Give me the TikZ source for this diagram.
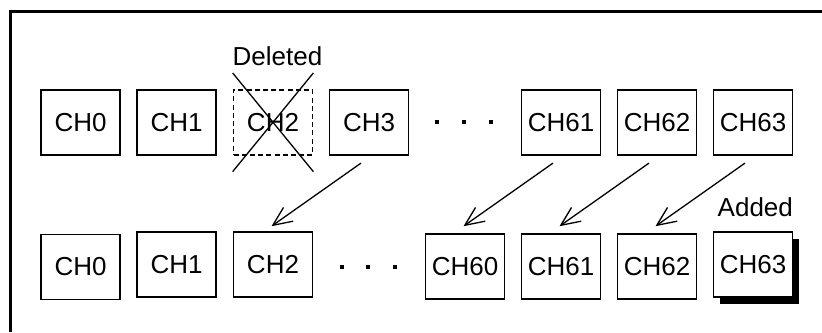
\documentclass[tikz,border=0pt]{standalone}
\usepackage{fontspec}
\setmainfont{Liberation Sans}
\usetikzlibrary{arrows.meta,shadows}
\begin{document}
\begin{tikzpicture}[x=0.5pt,y=-0.5pt,
  chbox/.style={draw,line width=0.8pt,minimum width=39.5pt,minimum height=32.5pt,inner sep=0pt,font=\fontsize{13pt}{15pt}\selectfont},
  delbox/.style={chbox,dash pattern=on 2.5pt off 1.6pt,line width=0.85pt},
  lbl/.style={font=\fontsize{13pt}{15pt}\selectfont,inner sep=0pt,anchor=base},
  dot/.style={fill=black,minimum size=2pt,inner sep=0pt,draw=none},
  arr/.style={line width=0.65pt,-{Straight Barb[length=9.5pt,width=8.4pt,line width=0.65pt]}},
  frame/.style={line width=1.5pt}]
\useasboundingbox (0,0) rectangle (822,332);
% frame (left and top edges)
\coordinate (fb) at (10.5,332);
\coordinate (fc) at (10.5,11.5);
\coordinate (fr) at (822,11.5);
\draw[frame] (fb) -- (fc) -- (fr);
% top row
\node[chbox] (t0) at (80.7,122.3) {CH0};
\node[chbox] (t1) at (176.7,122.3) {CH1};
\node[delbox] (t2) at (273,122.3) {CH2};
\node[chbox] (t3) at (369,122.3) {CH3};
\node[dot] (td1) at (437.3,122.3) {};
\node[dot] (td2) at (464,122.3) {};
\node[dot] (td3) at (491,122.3) {};
\node[chbox] (t61) at (561,122.3) {CH61};
\node[chbox] (t62) at (657,122.3) {CH62};
\node[chbox] (t63) at (753,122.3) {CH63};
% cross over deleted
\draw[line width=0.65pt] ([shift={(0,-16)}]t2.north west) -- ([shift={(0,16)}]t2.south east);
\draw[line width=0.65pt] ([shift={(0,-16)}]t2.north east) -- ([shift={(0,16)}]t2.south west);
\node[lbl] (del) at (277.5,65) {Deleted};
% bottom row
\node[chbox] (b0) at (80.7,266.8) {CH0};
\node[chbox] (b1) at (176.7,264.3) {CH1};
\node[chbox] (b2) at (273,264.5) {CH2};
\node[dot] (bd1) at (341.7,266.7) {};
\node[dot] (bd2) at (368.3,266.7) {};
\node[dot] (bd3) at (395,266.7) {};
\node[chbox] (b60) at (465,266.5) {CH60};
\node[chbox] (b61) at (561,266.5) {CH61};
\node[chbox] (b62) at (657,266.5) {CH62};
\node[chbox,fill=white,drop shadow={opacity=1,fill=black,shadow xshift=3pt,shadow yshift=-3.5pt}] (b63) at (753,264.5) {CH63};
\node[lbl] (add) at (755.3,216.7) {Added};
% arrows
\draw[arr] ([shift={(-8,7.5)}]t3.south) -- ([shift={(-1.5,-5)}]b2.north);
\draw[arr] ([shift={(-8,7.5)}]t61.south) -- ([shift={(-1.5,-7)}]b60.north);
\draw[arr] ([shift={(-8,7.5)}]t62.south) -- ([shift={(-1.5,-7)}]b61.north);
\draw[arr] ([shift={(-8,7.5)}]t63.south) -- ([shift={(-1.5,-7)}]b62.north);
\end{tikzpicture}
\end{document}
